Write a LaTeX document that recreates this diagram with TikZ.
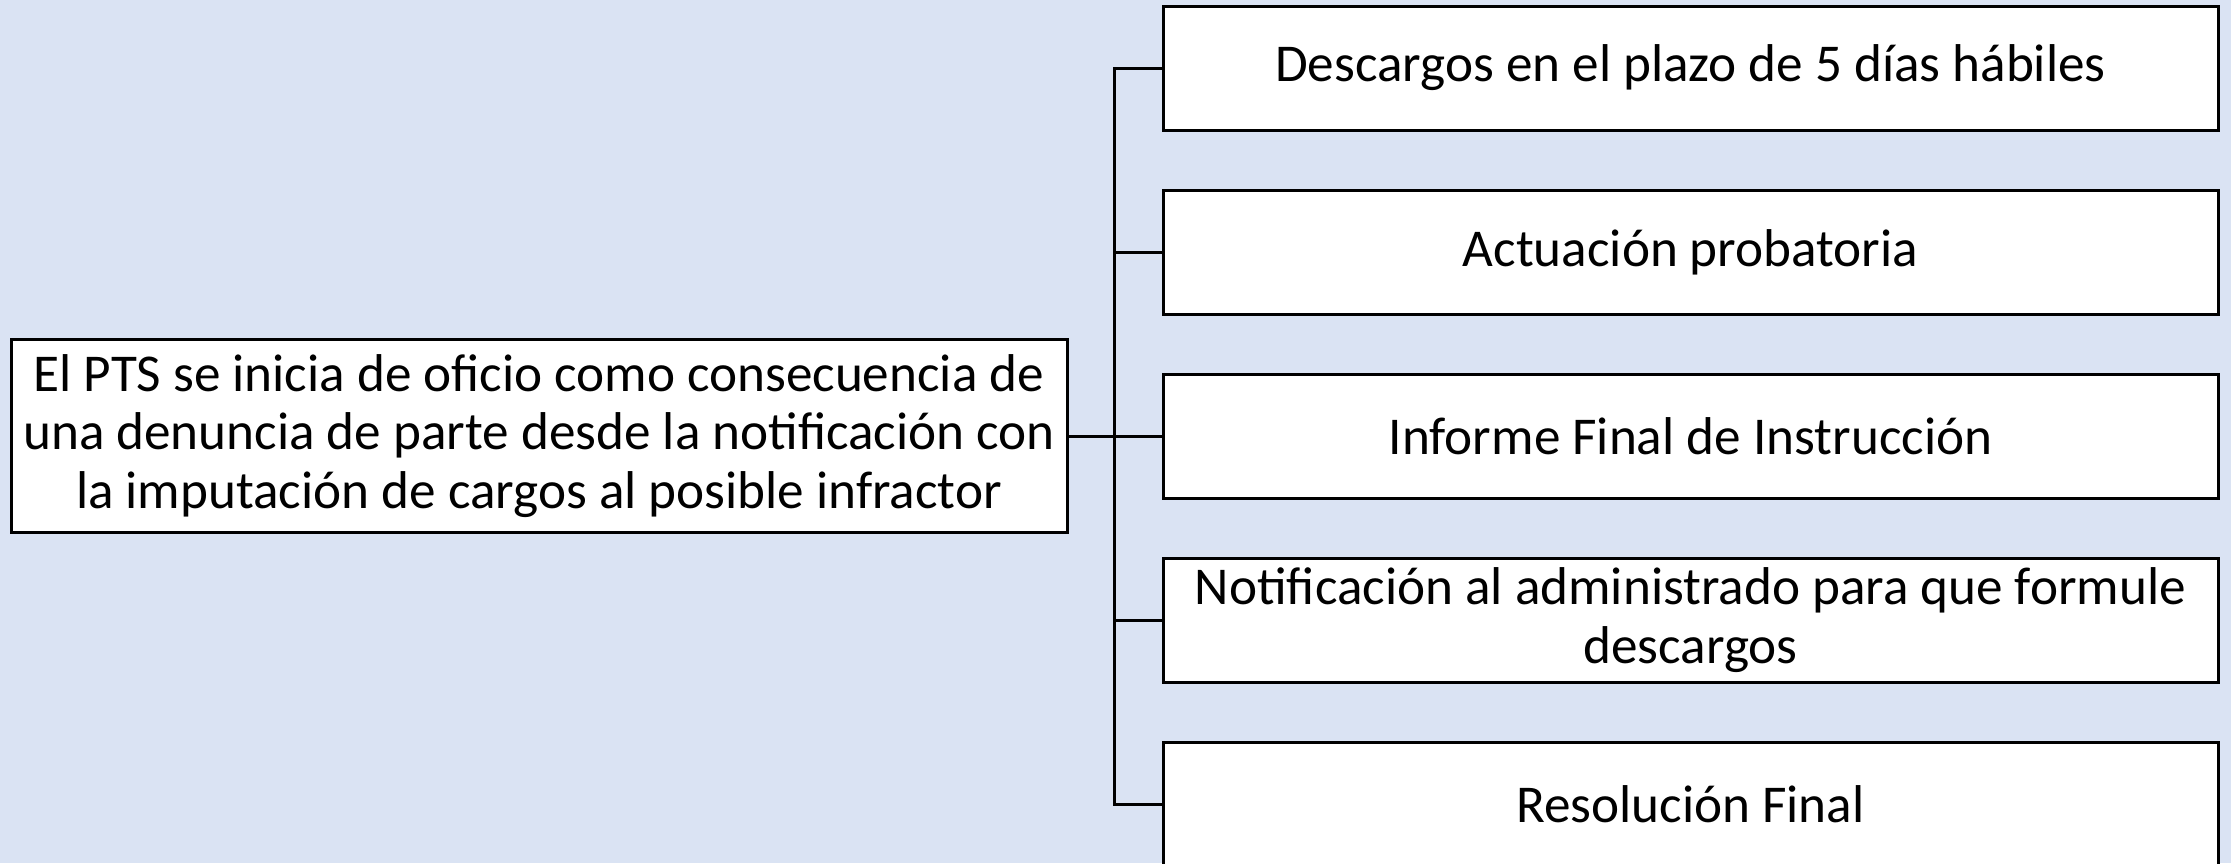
\documentclass[tikz,border=0pt]{standalone}
\usepackage{fontspec}
\setmainfont{Carlito}
\definecolor{bgblue}{HTML}{DAE3F3}
\begin{document}
\begin{tikzpicture}[x=0.5pt,y=-0.5pt,
  box/.style={draw=black, line width=1.5pt, fill=white, rectangle, inner sep=0pt,
    align=center, font=\fontsize{26.6}{29.3}\selectfont},
  rbox/.style={box, minimum width=527.5pt, minimum height=62pt},
  link/.style={draw=black, line width=1.5pt}]
\useasboundingbox (0,0) rectangle (2231,863);
\fill[bgblue] (0,0) rectangle (2231,863);
\clip (0,0) rectangle (2231,863);
\node[box, minimum width=528pt, minimum height=96.5pt] (root) at (539,436)
  {El PTS se inicia de oficio como consecuencia de\\una denuncia de parte desde la notificación con\\la imputación de cargos al posible infractor};
\node[rbox] (b1) at (1690.5,68) {Descargos en el plazo de 5 días hábiles};
\node[rbox] (b2) at (1690.5,252) {Actuación probatoria};
\node[rbox] (b3) at (1690.5,436) {Informe Final de Instrucción};
\node[rbox] (b4) at (1690.5,620) {Notificación al administrado para que formule\\descargos};
\node[rbox] (b5) at (1690.5,804) {Resolución Final};
\coordinate (j) at (1114,436);
\path[link] (root.east) -- (j);
\foreach \b in {b1,b2,b3,b4,b5} {
  \path[link] (j) |- (\b.west);
}
\end{tikzpicture}
\end{document}
